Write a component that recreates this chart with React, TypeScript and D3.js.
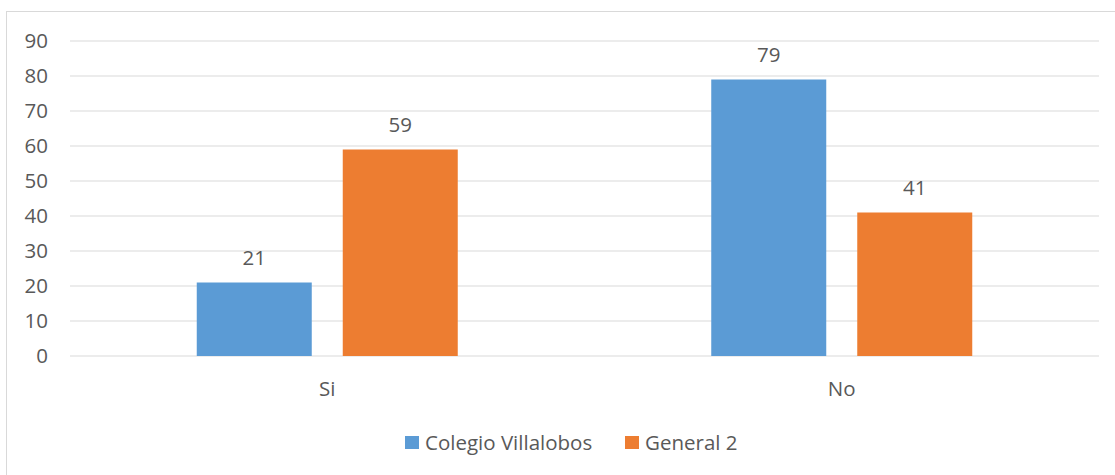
import React from "react";
import * as d3 from "d3";

const categories = ["Si", "No"];
const seriesNames = ["Colegio Villalobos", "General 2"];
const colegioVillalobos = [21, 79];
const general2 = [59, 41];
const yTicks = [0, 10, 20, 30, 40, 50, 60, 70, 80, 90];
const colors = ["#5B9BD5", "#ED7D31"];

const W = 1115;
const H = 475;
const FONT = "'Open Sans', sans-serif";
const TEXT = "#595959";
const FS = 20.5;

export default function App() {
  const left = 70;
  const right = 1099;
  const top = 41;
  const bottom = 356;
  const x = d3.scaleBand<string>().domain(categories).range([left, right]).paddingInner(0).paddingOuter(0);
  const y = d3.scaleLinear().domain([0, 90]).range([bottom, top]);
  const groupInner = 261;
  const x1 = d3
    .scaleBand<string>()
    .domain(seriesNames)
    .range([0, groupInner])
    .paddingInner(31 / 146)
    .paddingOuter(0);
  const values = [colegioVillalobos, general2];
  const offset = (x.bandwidth() - groupInner) / 2;

  return (
    <svg
      width={W}
      height={H}
      style={{ position: "absolute", left: 0, top: 0, background: "#fff" }}
      fontFamily={FONT}
    >
      <rect x={6.5} y={11.5} width={W} height={H} fill="#fff" stroke="#d9d9d9" strokeWidth={1} />
      {yTicks.map((t) => (
        <g key={t}>
          <line x1={left} x2={right} y1={y(t)} y2={y(t)} stroke="#d9d9d9" strokeWidth={1} />
          <text x={48} y={y(t)} dy="0.35em" textAnchor="end" fontSize={FS} fill={TEXT}>
            {t}
          </text>
        </g>
      ))}
      {categories.map((c, ci) => (
        <g key={c}>
          {seriesNames.map((s, si) => {
            const v = values[si][ci];
            const bx = (x(c) as number) + offset + (x1(s) as number);
            return (
              <g key={s}>
                <rect x={bx} y={y(v)} width={x1.bandwidth()} height={y(0) - y(v)} fill={colors[si]} />
                <text
                  x={bx + x1.bandwidth() / 2}
                  y={y(v) - 25}
                  dy="0.35em"
                  textAnchor="middle"
                  fontSize={FS}
                  fill={TEXT}
                >
                  {v}
                </text>
              </g>
            );
          })}
          <text
            x={(x(c) as number) + x.bandwidth() / 2}
            y={389}
            dy="0.35em"
            textAnchor="middle"
            fontSize={FS}
            fill={TEXT}
          >
            {c}
          </text>
        </g>
      ))}
      {seriesNames.map((s, si) => {
        const lx = si === 0 ? 405 : 625;
        return (
          <g key={s}>
            <rect x={lx} y={436} width={14} height={13} fill={colors[si]} />
            <text x={lx + 20} y={442.5} dy="0.35em" fontSize={FS} fill={TEXT}>
              {s}
            </text>
          </g>
        );
      })}
    </svg>
  );
}
